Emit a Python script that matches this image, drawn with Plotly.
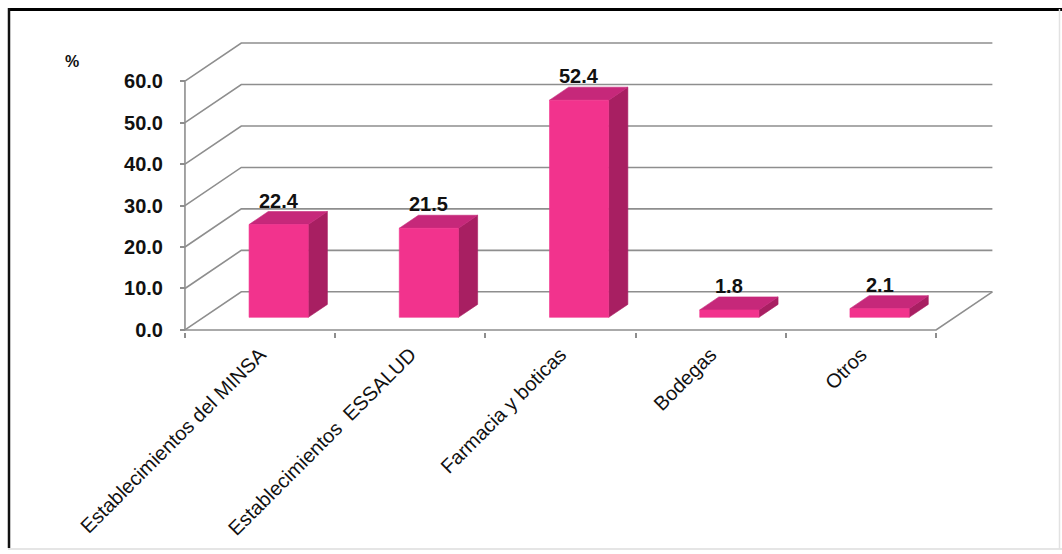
import plotly.graph_objects as go

# Survey result: where people obtain their medicines (%)
categories = [
    "Establecimientos del MINSA",
    "Establecimientos  ESSALUD",
    "Farmacia y boticas",
    "Bodegas",
    "Otros",
]
values = [22.4, 21.5, 52.4, 1.8, 2.1]
y_ticks = [0, 10, 20, 30, 40, 50, 60]
y_ticktext = ["0.0", "10.0", "20.0", "30.0", "40.0", "50.0", "60.0"]

# Oblique projection of the chart depth (in axis units)
DX = 0.375   # horizontal shift of the back wall, in category units
DY = 9.2     # vertical shift of the back wall, in percent units
F0, F1 = 0.33, 0.67   # front/back depth fraction of each bar
HALF_W = 0.197        # half of a bar's width, in category units
Y_MAX = y_ticks[-1]

FRONT = "#F2338D"
SIDE = "#A81F62"
TOP = "#C6287A"
GRID = "#8e8e8e"

W, H = 1062, 554
M_L, M_R, M_T, M_B = 180, 66, 41, 222
X_RANGE = [-0.033, len(categories) + DX + 0.024]
Y_RANGE = [-0.5, Y_MAX + DY + 0.5]

fig = go.Figure()


def add_line(xs, ys):
    fig.add_trace(go.Scatter(x=xs, y=ys, mode="lines",
                             line=dict(color=GRID, width=1.6),
                             hoverinfo="skip", showlegend=False))


def add_face(xs, ys, color):
    fig.add_trace(go.Scatter(x=xs + [xs[0]], y=ys + [ys[0]], mode="lines",
                             fill="toself", fillcolor=color,
                             line=dict(color=color, width=0.6),
                             hoverinfo="skip", showlegend=False))


n = len(categories)
# Side wall diagonals and back wall gridlines
for t in y_ticks:
    add_line([0, DX, n + DX], [t, t + DY, t + DY])
# Floor: front edge and right edge
add_line([0, n, n + DX], [0, 0, DY])
# Front value axis
add_line([0, 0], [0, Y_MAX])

# 3-D bars: front, side and top faces
for i, v in enumerate(values):
    c = i + 0.5
    xl0, xr0 = c - HALF_W + F0 * DX, c + HALF_W + F0 * DX
    xl1, xr1 = c - HALF_W + F1 * DX, c + HALF_W + F1 * DX
    yb0, yb1 = F0 * DY, F1 * DY
    add_face([xr0, xr1, xr1, xr0], [yb0, yb1, v + yb1, v + yb0], SIDE)
    add_face([xl0, xr0, xr1, xl1], [v + yb0, v + yb0, v + yb1, v + yb1], TOP)
    add_face([xl0, xr0, xr0, xl0], [yb0, yb0, v + yb0, v + yb0], FRONT)
    fig.add_annotation(x=c + F0 * DX, y=v + yb1, text=f"{v:.1f}",
                       showarrow=False, yanchor="bottom", yshift=-2,
                       font=dict(family="Liberation Sans", size=20,
                                 color="#111111", weight="bold"))

# "%" unit label above the value axis
fig.add_annotation(xref="paper", yref="paper",
                   x=(63 - M_L) / (W - M_L - M_R),
                   y=(H - M_B - 51) / (H - M_T - M_B),
                   text="%", showarrow=False,
                   font=dict(family="Liberation Sans", size=16,
                             color="#111111", weight="bold"))


def px_x(p):
    return (p - M_L) / (W - M_L - M_R)


def px_y(p):
    return (H - M_B - p) / (H - M_T - M_B)


# Outer frame
frame = [
    (8, 9.5, W, 9.5, "#000000", 3),
    (9, 8, 9, 548, "#111111", 2.5),
    (8, 549, W, 549, "#dddddd", 1.5),
    (1059.5, 9, 1059.5, 549, "#e2e2e2", 1.5),
]
for x0, y0, x1, y1, col, wd in frame:
    fig.add_shape(type="line", xref="paper", yref="paper",
                  x0=px_x(x0), y0=px_y(y0), x1=px_x(x1), y1=px_y(y1),
                  line=dict(color=col, width=wd))

fig.update_xaxes(
    range=X_RANGE, showgrid=False, zeroline=False, showline=False,
    tickmode="array", tickvals=[i + 0.5 for i in range(n)],
    ticktext=categories, ticks="", tickangle=-45,
    ticklabelstandoff=6,
    tickfont=dict(family="Liberation Sans", size=20, color="#111111"),
    minor=dict(tickmode="array", tickvals=list(range(n + 1)),
               ticks="outside", ticklen=5, tickcolor=GRID, tickwidth=1.5),
)
fig.update_yaxes(
    range=Y_RANGE, showgrid=False, zeroline=False, showline=False,
    tickmode="array", tickvals=y_ticks, ticktext=y_ticktext,
    ticks="inside", ticklen=5, tickcolor=GRID, tickwidth=1.5,
    ticklabelstandoff=16,
    tickfont=dict(family="Liberation Sans", size=20, color="#111111",
                  weight="bold"),
)

fig.update_layout(
    width=W, height=H,
    margin=dict(l=M_L, r=M_R, t=M_T, b=M_B, autoexpand=False),
    paper_bgcolor="white", plot_bgcolor="white",
    showlegend=False,
)

fig.write_html("out.html")
